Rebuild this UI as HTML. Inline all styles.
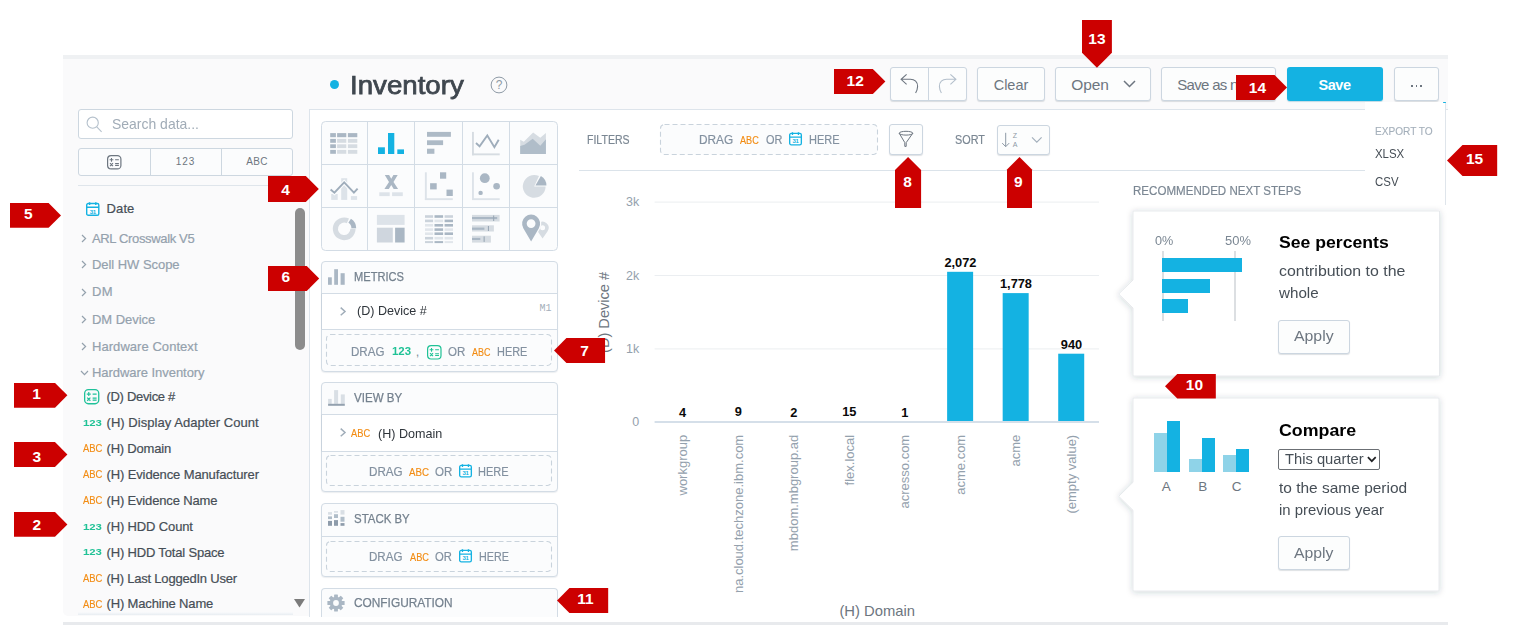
<!DOCTYPE html>
<html><head><meta charset="utf-8">
<style>
*{box-sizing:border-box;margin:0;padding:0}
html,body{width:1521px;height:637px;overflow:hidden;background:#fff}
body{position:relative;font-family:"Liberation Sans",sans-serif;color:#464e56}
.a{position:absolute}
svg.a{display:block;overflow:visible}
.lt{position:absolute;color:#fff;font-weight:bold;line-height:1;text-align:center}
.btn{position:absolute;border:1px solid #ccd6e0;border-radius:3px;background:#fcfdfd;box-shadow:0 1px 1px rgba(31,53,74,.15);color:#6d7680;text-align:center;white-space:nowrap}
.t{position:absolute;white-space:nowrap;line-height:1}
.grp{color:#94a1ad}
.itm{color:#464e56}
.abc{color:#f38800}
.n123{color:#13b58f}
.dz{position:absolute;border:1px dashed #c6d0da;border-radius:5px}
</style></head>
<body>
<div class="a" style="left:63px;top:55px;width:1385px;height:4px;background:#eff1f3"></div>
<div class="a" style="left:63px;top:59px;width:1385px;height:557px;background:#fafafb;border-bottom-left-radius:5px"></div>
<div class="a" style="left:63px;top:622px;width:1385px;height:3px;background:#e8eaed"></div>
<div class="a" style="left:309px;top:109px;width:1139px;height:508px;background:#fff;border-left:1px solid #dde4eb;border-top:1px solid #dde4eb"></div>
<div class="a" style="left:78px;top:109px;width:215px;height:30px;border:1px solid #cdd7e0;border-radius:3px;background:#fff"></div>
<svg class="a" style="left:86px;top:116px" width="18" height="18" viewBox="0 0 18 18"><circle cx="6.7" cy="6.7" r="5.6" fill="none" stroke="#b5c1cc" stroke-width="1.1"/><path d="M10.8 10.8L15.6 15.8" stroke="#b5c1cc" stroke-width="1.1"/></svg>
<div class="t" style="left:111.90px;top:116.98px;font-size:14.2px;color:#a1acb7;transform:scaleX(0.9842);transform-origin:0 0;">Search data...</div>
<div class="a" style="left:78px;top:148px;width:215px;height:28px;border:1px solid #cdd7e0;border-radius:3px;background:#fbfcfd"></div>
<div class="a" style="left:150px;top:149px;width:1px;height:26px;background:#cdd7e0"></div>
<div class="a" style="left:221px;top:149px;width:1px;height:26px;background:#cdd7e0"></div>
<svg class="a" style="left:107px;top:155px" width="14.5" height="14.5" viewBox="0 0 14.5 14.5"><rect x="0.6" y="0.6" width="13.3" height="13.3" rx="3.48" fill="none" stroke="#6d7680" stroke-width="1.2"/><path d="M2.6100000000000003 4.785H6.38M4.495 2.9000000000000004V6.67M8.12 4.785H11.889999999999999M2.987 8.062000000000001L6.003 11.078M6.003 8.062000000000001L2.987 11.078M8.12 8.6275H11.889999999999999M8.12 10.512500000000001H11.889999999999999" stroke="#6d7680" stroke-width="1.08" fill="none"/></svg>
<div class="t" style="left:150px;width:71px;top:157px;font-size:10px;letter-spacing:1px;color:#6d7680;text-align:center">123</div>
<div class="t" style="left:221px;width:72px;top:157px;font-size:10px;letter-spacing:0.3px;color:#6d7680;text-align:center">ABC</div>
<div class="a" style="left:78px;top:185px;width:215px;height:1px;background:#dfe5eb"></div>
<svg class="a" style="left:86px;top:202px" width="14" height="14" viewBox="0 0 14 14"><rect x="0.7" y="1.5" width="12.1" height="11.8" rx="1.6" fill="#fff" stroke="#14b2e2" stroke-width="1.4"/><path d="M0.7 5.3H12.8M3.6 0.2V3M9.8 0.2V3" stroke="#14b2e2" stroke-width="1.4"/><text x="6.8" y="11.6" font-size="6.2" font-weight="bold" text-anchor="middle" fill="#14b2e2" font-family="Liberation Sans" letter-spacing="-0.3">31</text></svg>
<div class="t itm" style="left:106.5px;top:202.1px;font-size:13px;letter-spacing:0.13px;-webkit-text-stroke:0.2px currentColor;">Date</div>
<svg class="a" style="left:81px;top:234.3px" width="6" height="9" viewBox="0 0 6 9"><path d="M1 1L4.6 4.5L1 8" fill="none" stroke="#94a1ad" stroke-width="1.2"/></svg>
<div class="t grp" style="left:92px;top:231.8px;font-size:13px;letter-spacing:-0.35px;-webkit-text-stroke:0.2px currentColor;">ARL Crosswalk V5</div>
<svg class="a" style="left:81px;top:260.3px" width="6" height="9" viewBox="0 0 6 9"><path d="M1 1L4.6 4.5L1 8" fill="none" stroke="#94a1ad" stroke-width="1.2"/></svg>
<div class="t grp" style="left:92px;top:257.8px;font-size:13px;letter-spacing:-0.05px;-webkit-text-stroke:0.2px currentColor;">Dell HW Scope</div>
<svg class="a" style="left:81px;top:287.5px" width="6" height="9" viewBox="0 0 6 9"><path d="M1 1L4.6 4.5L1 8" fill="none" stroke="#94a1ad" stroke-width="1.2"/></svg>
<div class="t grp" style="left:92px;top:285.0px;font-size:13px;letter-spacing:0.3px;-webkit-text-stroke:0.2px currentColor;">DM</div>
<svg class="a" style="left:81px;top:315.4px" width="6" height="9" viewBox="0 0 6 9"><path d="M1 1L4.6 4.5L1 8" fill="none" stroke="#94a1ad" stroke-width="1.2"/></svg>
<div class="t grp" style="left:92px;top:312.9px;font-size:13px;letter-spacing:-0.04px;-webkit-text-stroke:0.2px currentColor;">DM Device</div>
<svg class="a" style="left:81px;top:342.3px" width="6" height="9" viewBox="0 0 6 9"><path d="M1 1L4.6 4.5L1 8" fill="none" stroke="#94a1ad" stroke-width="1.2"/></svg>
<div class="t grp" style="left:92px;top:339.8px;font-size:13px;letter-spacing:0.05px;-webkit-text-stroke:0.2px currentColor;">Hardware Context</div>
<svg class="a" style="left:79.5px;top:369.5px" width="9" height="6" viewBox="0 0 9 6"><path d="M1 1L4.5 4.6L8 1" fill="none" stroke="#94a1ad" stroke-width="1.2"/></svg>
<div class="t grp" style="left:92px;top:366.1px;font-size:13px;letter-spacing:-0.05px;-webkit-text-stroke:0.2px currentColor;">Hardware Inventory</div>
<svg class="a" style="left:84.3px;top:389.2px" width="15.4" height="15.4" viewBox="0 0 15.4 15.4"><rect x="0.65" y="0.65" width="14.1" height="14.1" rx="3.6959999999999997" fill="none" stroke="#1fc19a" stroke-width="1.3"/><path d="M2.772 5.082000000000001H6.776M4.774 3.0800000000000005V7.084000000000001M8.623999999999999 5.082000000000001H12.628M3.1723999999999997 8.5624L6.3756 11.765600000000003M6.3756 8.5624L3.1723999999999997 11.765600000000003M8.623999999999999 9.163000000000002H12.628M8.623999999999999 11.165000000000001H12.628" stroke="#1fc19a" stroke-width="1.1700000000000002" fill="none"/></svg>
<div class="t itm" style="left:106.5px;top:390.2px;font-size:13px;letter-spacing:-0.31px;-webkit-text-stroke:0.2px currentColor;">(D) Device #</div>
<div class="t" style="left:82.70px;top:418.02px;font-size:9.9px;color:#20c296;transform:scaleX(1.1492);transform-origin:0 0;font-weight:bold;">123</div>
<div class="t itm" style="left:106.5px;top:416.4px;font-size:13px;letter-spacing:0.05px;-webkit-text-stroke:0.2px currentColor;">(H) Display Adapter Count</div>
<div class="t" style="left:82.70px;top:443.49px;font-size:11px;color:#f28c13;transform:scaleX(0.8582);transform-origin:0 0;-webkit-text-stroke:0.15px #f28c13;">ABC</div>
<div class="t itm" style="left:106.5px;top:442.3px;font-size:13px;letter-spacing:-0.2px;-webkit-text-stroke:0.2px currentColor;">(H) Domain</div>
<div class="t" style="left:82.70px;top:469.39px;font-size:11px;color:#f28c13;transform:scaleX(0.8582);transform-origin:0 0;-webkit-text-stroke:0.15px #f28c13;">ABC</div>
<div class="t itm" style="left:106.5px;top:468.2px;font-size:13px;letter-spacing:-0.12px;-webkit-text-stroke:0.2px currentColor;">(H) Evidence Manufacturer</div>
<div class="t" style="left:82.70px;top:495.19px;font-size:11px;color:#f28c13;transform:scaleX(0.8582);transform-origin:0 0;-webkit-text-stroke:0.15px #f28c13;">ABC</div>
<div class="t itm" style="left:106.5px;top:494.0px;font-size:13px;letter-spacing:-0.16px;-webkit-text-stroke:0.2px currentColor;">(H) Evidence Name</div>
<div class="t" style="left:82.70px;top:521.52px;font-size:9.9px;color:#20c296;transform:scaleX(1.1492);transform-origin:0 0;font-weight:bold;">123</div>
<div class="t itm" style="left:106.5px;top:519.9px;font-size:13px;letter-spacing:-0.14px;-webkit-text-stroke:0.2px currentColor;">(H) HDD Count</div>
<div class="t" style="left:82.70px;top:547.42px;font-size:9.9px;color:#20c296;transform:scaleX(1.1492);transform-origin:0 0;font-weight:bold;">123</div>
<div class="t itm" style="left:106.5px;top:545.8px;font-size:13px;letter-spacing:-0.17px;-webkit-text-stroke:0.2px currentColor;">(H) HDD Total Space</div>
<div class="t" style="left:82.70px;top:572.79px;font-size:11px;color:#f28c13;transform:scaleX(0.8582);transform-origin:0 0;-webkit-text-stroke:0.15px #f28c13;">ABC</div>
<div class="t itm" style="left:106.5px;top:571.6px;font-size:13px;letter-spacing:-0.22px;-webkit-text-stroke:0.2px currentColor;">(H) Last LoggedIn User</div>
<div class="t" style="left:82.70px;top:598.59px;font-size:11px;color:#f28c13;transform:scaleX(0.8582);transform-origin:0 0;-webkit-text-stroke:0.15px #f28c13;">ABC</div>
<div class="t itm" style="left:106.5px;top:597.4px;font-size:13px;letter-spacing:-0.15px;-webkit-text-stroke:0.2px currentColor;">(H) Machine Name</div>
<div class="a" style="left:78px;top:612px;width:215px;height:3px;background:linear-gradient(#fafbfc,#e8edf2)"></div>
<div class="a" style="left:295px;top:208px;width:10px;height:142px;border-radius:5px;background:#8c8c8c"></div>
<svg class="a" style="left:294px;top:599px" width="11" height="9" viewBox="0 0 11 9"><polygon points="0,0 11,0 5.5,8.5" fill="#7b7b7b"/></svg>
<div class="a" style="left:309px;top:109px;width:1px;height:508px;background:#dde4eb"></div>
<div class="a" style="left:329.5px;top:80px;width:9px;height:9px;border-radius:50%;background:#14b2e2"></div>
<div class="t" style="left:349.60px;top:71.94px;font-size:26.3px;color:#3f474f;transform:scaleX(1.0515);transform-origin:0 0;-webkit-text-stroke:0.75px #3f474f;">Inventory</div>
<svg class="a" style="left:490px;top:75.5px" width="18" height="18" viewBox="0 0 18 18"><circle cx="9" cy="9" r="7.9" fill="none" stroke="#8e9aa6" stroke-width="1"/><text x="9" y="13.2" font-size="12" text-anchor="middle" fill="#8e9aa6" font-family="Liberation Sans">?</text></svg>
<div class="btn" style="left:890px;top:67px;width:77px;height:34px"></div>
<div class="a" style="left:928px;top:68px;width:1px;height:32px;background:#ccd6e0"></div>
<svg class="a" style="left:899px;top:72px" width="22" height="24" viewBox="0 0 22 24"><path d="M7.6 2.3L2.1 7.3L7.6 12.4M2.1 7.3H11.4C15.6 7.3 18.8 10 18.6 14.5C18.5 17 17.8 19 16.6 21" fill="none" stroke="#6d7680" stroke-width="1.1"/></svg>
<svg class="a" style="left:936px;top:72px" width="22" height="24" viewBox="0 0 22 24"><path d="M14.4 2.3L19.9 7.3L14.4 12.4M19.9 7.3H10.6C6.4 7.3 3.2 10 3.4 14.5C3.5 17 4.2 19 5.4 21" fill="none" stroke="#b3bfcb" stroke-width="1.1"/></svg>
<div class="btn" style="left:977px;top:67px;width:68px;height:34px;font-size:14.5px;line-height:34px">Clear</div>
<div class="btn" style="left:1055px;top:67px;width:96px;height:34px"></div>
<div class="t" style="left:1071.20px;top:77.28px;font-size:15.5px;color:#6d7680;letter-spacing:-0.1px;">Open</div>
<svg class="a" style="left:1123px;top:80px" width="13" height="8" viewBox="0 0 13 8"><path d="M1 1L6.5 6.5L12 1" fill="none" stroke="#6d7680" stroke-width="1.5"/></svg>
<div class="btn" style="left:1161px;top:67px;width:115px;height:34px;overflow:hidden"></div>
<div class="t" style="left:1177.30px;top:77.30px;font-size:15px;color:#6d7680;letter-spacing:-0.7px;">Save as new</div>
<div class="a" style="left:1287px;top:67px;width:96px;height:34px;border-radius:3px;background:#14b2e2;color:#fff;box-shadow:0 1px 1px rgba(20,120,160,.25)"></div>
<div class="t" style="left:1318.60px;top:77.53px;font-size:14.5px;color:#fff;font-weight:bold;letter-spacing:-0.5px;">Save</div>
<div class="btn" style="left:1394px;top:67px;width:45px;height:34px"></div>
<div class="a" style="left:1411.3px;top:85.2px;width:1.6px;height:1.6px;background:#6d7680"></div>
<div class="a" style="left:1415.9px;top:85.2px;width:1.6px;height:1.6px;background:#6d7680"></div>
<div class="a" style="left:1420.4px;top:85.2px;width:1.6px;height:1.6px;background:#6d7680"></div>
<svg class="a" style="left:321px;top:121px" width="238" height="131" viewBox="0 0 238 131"><rect x="0.5" y="0.5" width="236" height="129" rx="4" fill="#fbfcfd" stroke="#d3dce5"/><path d="M46.5 0.5V129.5" stroke="#d3dce5" stroke-width="1"/><path d="M93.5 0.5V129.5" stroke="#d3dce5" stroke-width="1"/><path d="M141.5 0.5V129.5" stroke="#d3dce5" stroke-width="1"/><path d="M188.5 0.5V129.5" stroke="#d3dce5" stroke-width="1"/><path d="M0.5 43.5H236.5" stroke="#d3dce5" stroke-width="1"/><path d="M0.5 86.5H236.5" stroke="#d3dce5" stroke-width="1"/><rect x="9.20" y="12.10" width="5.70" height="4.10" fill="#aab7c4"/><rect x="16.10" y="12.10" width="9.20" height="4.10" fill="#aab7c4"/><rect x="26.90" y="12.10" width="9.40" height="4.10" fill="#aab7c4"/><rect x="9.20" y="17.90" width="5.70" height="3.90" fill="#aab7c4"/><rect x="16.10" y="17.90" width="9.20" height="3.90" fill="#d6dce2"/><rect x="26.90" y="17.90" width="9.40" height="3.90" fill="#d6dce2"/><rect x="9.20" y="23.30" width="5.70" height="3.80" fill="#aab7c4"/><rect x="16.10" y="23.30" width="9.20" height="3.80" fill="#d6dce2"/><rect x="26.90" y="23.30" width="9.40" height="3.80" fill="#d6dce2"/><rect x="9.20" y="28.90" width="5.70" height="3.90" fill="#aab7c4"/><rect x="16.10" y="28.90" width="9.20" height="3.90" fill="#d6dce2"/><rect x="26.90" y="28.90" width="9.40" height="3.90" fill="#d6dce2"/><rect x="57.00" y="26.30" width="6.90" height="6.70" fill="#14b2e2"/><rect x="67.00" y="12.00" width="6.30" height="21.00" fill="#14b2e2"/><rect x="76.30" y="28.40" width="6.70" height="4.60" fill="#14b2e2"/><rect x="106.00" y="10.90" width="23.90" height="4.90" fill="#adbac6"/><rect x="106.00" y="19.30" width="16.10" height="4.80" fill="#adbac6"/><rect x="106.00" y="27.70" width="7.40" height="5.10" fill="#adbac6"/><rect x="151.00" y="10.90" width="1.90" height="23.40" fill="#d6dce2"/><rect x="151.00" y="32.40" width="27.70" height="1.90" fill="#d6dce2"/><polyline points="155,22 158.60000000000002,25.400000000000006 166.3,14.5 173.39999999999998,26.19999999999999 177.7,18.69999999999999" fill="none" stroke="#9fadbb" stroke-width="1.9" stroke-linejoin="miter"/><polygon points="199.20,18.80 202.80,20.80 212.10,11.60 219.30,16.80 224.90,11.90 224.90,32.90 199.20,32.90" fill="#d6dce2"/><polygon points="199.20,25.10 203.50,23.80 211.70,17.80 219.30,24.70 224.90,18.20 224.90,32.90 199.20,32.90" fill="#b0bdc9"/><rect x="10.20" y="73.00" width="6.50" height="5.90" fill="#dde3e9"/><rect x="20.20" y="57.20" width="6.00" height="21.70" fill="#dde3e9"/><rect x="29.90" y="75.10" width="6.20" height="3.80" fill="#dde3e9"/><polyline points="9.600000000000023,68.6 13.399999999999977,71.69999999999999 23.19999999999999,61.400000000000006 32.89999999999998,71.69999999999999 36.60000000000002,67.6" fill="none" stroke="#fbfcfd" stroke-width="4"/><polyline points="9.600000000000023,68.6 13.399999999999977,71.69999999999999 23.19999999999999,61.400000000000006 32.89999999999998,71.69999999999999 36.60000000000002,67.6" fill="none" stroke="#9fadbb" stroke-width="1.9"/><polygon points="63.80,54.00 68.10,54.00 70.25,57.70 72.40,54.00 76.70,54.00 72.50,60.90 77.10,67.90 72.70,67.90 70.25,64.00 67.80,67.90 63.40,67.90 68.00,60.90" fill="#aab7c4"/><rect x="58.30" y="71.30" width="10.40" height="3.80" fill="#dde3e9"/><rect x="71.10" y="71.30" width="10.70" height="3.80" fill="#dde3e9"/><rect x="103.90" y="51.30" width="1.90" height="27.70" fill="#dde3e9"/><rect x="103.90" y="77.20" width="27.90" height="1.90" fill="#dde3e9"/><rect x="119.00" y="51.30" width="6.20" height="6.40" fill="#aab7c4"/><rect x="109.10" y="62.20" width="6.60" height="6.20" fill="#aab7c4"/><rect x="125.50" y="68.60" width="6.30" height="6.40" fill="#aab7c4"/><rect x="151.00" y="51.30" width="1.90" height="27.70" fill="#dde3e9"/><rect x="151.00" y="77.20" width="27.70" height="1.90" fill="#dde3e9"/><circle cx="163.8" cy="57.19999999999999" r="4.9" fill="#aab7c4"/><circle cx="175.60000000000002" cy="65.30000000000001" r="3.3" fill="#aab7c4"/><circle cx="159.60000000000002" cy="71.9" r="2.2" fill="#aab7c4"/><path d="M213.20 65.40L224.60 65.40A11.4 11.4 0 1 1 218.02 55.07Z" fill="#d6dce2"/><path d="M214.40 64.60L219.90 55.07A11.0 11.0 0 0 1 225.40 64.60Z" fill="#aab7c4"/><path d="M34.60 107.80A11.4 11.4 0 1 1 28.02 97.47L25.82 102.18A6.2 6.2 0 1 0 29.40 107.80Z" fill="#d6dce2"/><path d="M29.94 97.70A11.2 11.2 0 0 1 35.20 107.20L30.40 107.20A6.4 6.4 0 0 0 27.39 101.77Z" fill="#aab7c4"/><rect x="55.90" y="93.90" width="27.70" height="10.00" fill="#dde3e9"/><rect x="55.90" y="106.70" width="15.90" height="14.80" fill="#cfd6de"/><rect x="74.10" y="106.70" width="9.50" height="14.80" fill="#aab7c4"/><rect x="104.00" y="94.20" width="8.10" height="2.60" fill="#cbd3db"/><rect x="113.50" y="94.20" width="8.60" height="2.60" fill="#aab7c4"/><rect x="123.60" y="94.20" width="8.40" height="2.60" fill="#cbd3db"/><rect x="104.00" y="98.60" width="8.10" height="2.60" fill="#cbd3db"/><rect x="113.50" y="98.60" width="8.60" height="2.60" fill="#e1e6eb"/><rect x="123.60" y="98.60" width="8.40" height="2.60" fill="#aab7c4"/><rect x="104.00" y="103.00" width="8.10" height="2.60" fill="#e1e6eb"/><rect x="113.50" y="103.00" width="8.60" height="2.60" fill="#aab7c4"/><rect x="123.60" y="103.00" width="8.40" height="2.60" fill="#aab7c4"/><rect x="104.00" y="107.30" width="8.10" height="2.60" fill="#e1e6eb"/><rect x="113.50" y="107.30" width="8.60" height="2.60" fill="#aab7c4"/><rect x="123.60" y="107.30" width="8.40" height="2.60" fill="#e1e6eb"/><rect x="104.00" y="111.40" width="8.10" height="2.60" fill="#e1e6eb"/><rect x="113.50" y="111.40" width="8.60" height="2.60" fill="#aab7c4"/><rect x="123.60" y="111.40" width="8.40" height="2.60" fill="#aab7c4"/><rect x="104.00" y="115.90" width="8.10" height="2.60" fill="#cbd3db"/><rect x="113.50" y="115.90" width="8.60" height="2.60" fill="#e1e6eb"/><rect x="123.60" y="115.90" width="8.40" height="2.60" fill="#e1e6eb"/><rect x="104.00" y="120.10" width="8.10" height="2.00" fill="#cbd3db"/><rect x="113.50" y="120.10" width="8.60" height="2.00" fill="#aab7c4"/><rect x="123.60" y="120.10" width="8.40" height="2.00" fill="#e1e6eb"/><rect x="151.00" y="93.90" width="27.60" height="6.60" fill="#d6dce2"/><rect x="151.00" y="96.00" width="25.20" height="2.10" fill="#aab7c4"/><rect x="172.10" y="94.50" width="1.10" height="5.50" fill="#9aa8b6"/><rect x="151.00" y="104.30" width="21.90" height="6.20" fill="#d6dce2"/><rect x="151.00" y="106.60" width="12.40" height="2.20" fill="#aab7c4"/><rect x="166.90" y="105.00" width="1.10" height="5.00" fill="#9aa8b6"/><rect x="151.00" y="114.70" width="18.90" height="6.90" fill="#d6dce2"/><rect x="151.00" y="116.90" width="8.30" height="2.10" fill="#aab7c4"/><rect x="162.60" y="115.40" width="1.10" height="5.50" fill="#9aa8b6"/><path d="M221.60 117.60L216.61 110.13A6.0 6.0 0 1 1 226.59 110.13Z M224.10 106.80A2.5 2.5 0 1 0 219.10 106.80A2.5 2.5 0 1 0 224.10 106.80Z" fill="#d6dce2" fill-rule="evenodd"/><path d="M210.10 120.50L202.32 107.13A9.0 9.0 0 1 1 217.88 107.13Z M210.10 102.60A0 0 0 1 0 210.10 102.60A0 0 0 1 0 210.10 102.60Z" fill="none" stroke="#fbfcfd" stroke-width="2.4"/><path d="M210.10 120.50L202.32 107.13A9.0 9.0 0 1 1 217.88 107.13Z M214.50 102.60A4.4 4.4 0 1 0 205.70 102.60A4.4 4.4 0 1 0 214.50 102.60Z" fill="#aab7c4" fill-rule="evenodd"/></svg>
<div class="a" style="left:321px;top:261px;width:237px;height:111px;border:1px solid #d3dce5;border-radius:4px;background:#fbfcfd;box-shadow:0 1px 1px rgba(31,53,74,.08)"></div>
<div class="a" style="left:322px;top:293px;width:235px;height:1px;background:#d3dce5"></div>
<svg class="a" style="left:328px;top:269px" width="17" height="16" viewBox="0 0 17 16"><rect x="0" y="8.3" width="3.8" height="7.5" fill="#aab7c4"/><rect x="6.2" y="0.2" width="3.8" height="15.6" fill="#aab7c4"/><rect x="12.6" y="4.2" width="4.1" height="11.6" fill="#aab7c4"/></svg>
<div class="t" style="left:354.00px;top:270.96px;font-size:12.8px;color:#74818e;transform:scaleX(0.8681);transform-origin:0 0;-webkit-text-stroke:0.25px #74818e;">METRICS</div>
<div class="a" style="left:321px;top:293px;width:237px;height:37px;background:#fff;border-top:1px solid #d3dce5;border-bottom:1px solid #d3dce5;border-left:1px solid #c9d3dd;border-right:1px solid #d3dce5"></div>
<svg class="a" style="left:340.3px;top:306.9px" width="6" height="9" viewBox="0 0 6 9"><path d="M0.7 0.6L5 4.45L0.7 8.3" fill="none" stroke="#a0adb9" stroke-width="1.5"/></svg>
<div class="t" style="left:356.60px;top:304.20px;font-size:13px;color:#2f353b;transform:scaleX(0.9666);transform-origin:0 0;">(D) Device #</div>
<div class="t" style="left:539.6px;top:303.6px;font-size:10px;color:#a4afba;font-family:'Liberation Mono',monospace">M1</div>
<svg class="a" style="left:325px;top:333px" width="228" height="34" viewBox="0 0 228 34"><rect x="1.5" y="1.5" width="225" height="31" rx="4" fill="#fbfcfd" stroke="#c9d3dc" stroke-width="1.1" stroke-dasharray="5 3"/></svg>
<div class="t" style="left:350.90px;top:345.66px;font-size:12.8px;color:#8391a0;transform:scaleX(0.9029);transform-origin:0 0;-webkit-text-stroke:0.2px #8391a0;">DRAG</div>
<div class="t" style="left:391.60px;top:346.88px;font-size:10.3px;color:#20c296;transform:scaleX(1.1104);transform-origin:0 0;font-weight:bold;">123</div>
<div class="t" style="left:415.80px;top:345.66px;font-size:12.8px;color:#8391a0;">,</div>
<svg class="a" style="left:427.3px;top:344.7px" width="14.6" height="14.6" viewBox="0 0 14.6 14.6"><rect x="0.6" y="0.6" width="13.4" height="13.4" rx="3.504" fill="none" stroke="#20c296" stroke-width="1.2"/><path d="M2.628 4.8180000000000005H6.4239999999999995M4.526 2.920000000000001V6.716M8.176 4.8180000000000005H11.972M3.0076 8.117600000000001L6.0443999999999996 11.1544M6.0443999999999996 8.117600000000001L3.0076 11.1544M8.176 8.687000000000001H11.972M8.176 10.585H11.972" stroke="#20c296" stroke-width="1.08" fill="none"/></svg>
<div class="t" style="left:447.50px;top:345.66px;font-size:12.8px;color:#8391a0;transform:scaleX(0.9010);transform-origin:0 0;-webkit-text-stroke:0.2px #8391a0;">OR</div>
<div class="t" style="left:471.70px;top:346.96px;font-size:10.8px;color:#f28c13;transform:scaleX(0.8291);transform-origin:0 0;-webkit-text-stroke:0.15px #f28c13;">ABC</div>
<div class="t" style="left:497.00px;top:345.66px;font-size:12.8px;color:#8391a0;transform:scaleX(0.8543);transform-origin:0 0;-webkit-text-stroke:0.2px #8391a0;">HERE</div>
<div class="a" style="left:321px;top:382px;width:237px;height:110px;border:1px solid #d3dce5;border-radius:4px;background:#fbfcfd;box-shadow:0 1px 1px rgba(31,53,74,.08)"></div>
<div class="a" style="left:322px;top:414px;width:235px;height:1px;background:#d3dce5"></div>
<svg class="a" style="left:328px;top:390px" width="17" height="16" viewBox="0 0 17 16"><rect x="0.1" y="8.9" width="3.6" height="5" fill="#d9dfe5"/><rect x="6.1" y="0.1" width="4" height="13.8" fill="#d9dfe5"/><rect x="12.8" y="4.4" width="4" height="9.5" fill="#d9dfe5"/><rect x="0.1" y="13.8" width="16.7" height="2" fill="#93a1af"/></svg>
<div class="t" style="left:354.00px;top:392.26px;font-size:12.8px;color:#74818e;transform:scaleX(0.9030);transform-origin:0 0;-webkit-text-stroke:0.25px #74818e;">VIEW BY</div>
<div class="a" style="left:321px;top:414px;width:237px;height:38px;background:#fff;border-top:1px solid #d3dce5;border-bottom:1px solid #d3dce5;border-left:1px solid #c9d3dd;border-right:1px solid #d3dce5"></div>
<svg class="a" style="left:340.3px;top:428.3px" width="6" height="9" viewBox="0 0 6 9"><path d="M0.7 0.6L5 4.45L0.7 8.3" fill="none" stroke="#a0adb9" stroke-width="1.5"/></svg>
<div class="t" style="left:351.00px;top:428.16px;font-size:10.8px;color:#f28c13;transform:scaleX(0.8606);transform-origin:0 0;-webkit-text-stroke:0.15px #f28c13;">ABC</div>
<div class="t" style="left:377.90px;top:426.50px;font-size:13px;color:#2f353b;transform:scaleX(0.9679);transform-origin:0 0;">(H) Domain</div>
<svg class="a" style="left:325px;top:454px" width="228" height="33" viewBox="0 0 228 33"><rect x="1.5" y="1.5" width="225" height="30" rx="4" fill="#fbfcfd" stroke="#c9d3dc" stroke-width="1.1" stroke-dasharray="5 3"/></svg>
<div class="t" style="left:369.20px;top:465.56px;font-size:12.8px;color:#8391a0;transform:scaleX(0.9110);transform-origin:0 0;-webkit-text-stroke:0.2px #8391a0;">DRAG</div>
<div class="t" style="left:409.40px;top:466.86px;font-size:10.8px;color:#f28c13;transform:scaleX(0.9011);transform-origin:0 0;-webkit-text-stroke:0.15px #f28c13;">ABC</div>
<div class="t" style="left:434.90px;top:465.56px;font-size:12.8px;color:#8391a0;transform:scaleX(0.9010);transform-origin:0 0;-webkit-text-stroke:0.2px #8391a0;">OR</div>
<svg class="a" style="left:458.6px;top:463.79999999999995px" width="13.5" height="13.5" viewBox="0 0 14 14"><rect x="0.7" y="1.5" width="12.1" height="11.8" rx="1.6" fill="#fff" stroke="#14b2e2" stroke-width="1.4"/><path d="M0.7 5.3H12.8M3.6 0.2V3M9.8 0.2V3" stroke="#14b2e2" stroke-width="1.4"/><text x="6.8" y="11.6" font-size="6.2" font-weight="bold" text-anchor="middle" fill="#14b2e2" font-family="Liberation Sans" letter-spacing="-0.3">31</text></svg>
<div class="t" style="left:478.40px;top:465.56px;font-size:12.8px;color:#8391a0;transform:scaleX(0.8599);transform-origin:0 0;-webkit-text-stroke:0.2px #8391a0;">HERE</div>
<div class="a" style="left:321px;top:503px;width:237px;height:74px;border:1px solid #d3dce5;border-radius:4px;background:#fbfcfd;box-shadow:0 1px 1px rgba(31,53,74,.08)"></div>
<div class="a" style="left:322px;top:536px;width:235px;height:1px;background:#d3dce5"></div>
<svg class="a" style="left:328px;top:509px" width="17" height="17" viewBox="0 0 17 17"><rect x="0" y="3.10" width="4" height="2.60" fill="#d9dfe5"/><rect x="0" y="7.40" width="4" height="2.70" fill="#b0bdc9"/><rect x="0" y="11.90" width="4" height="4.90" fill="#8e9cab"/><rect x="6" y="2.10" width="4" height="1.60" fill="#d9dfe5"/><rect x="6" y="5.20" width="4" height="3.80" fill="#b0bdc9"/><rect x="6" y="11.10" width="4" height="5.70" fill="#8e9cab"/><rect x="12.5" y="1.10" width="4" height="4.50" fill="#d9dfe5"/><rect x="12.5" y="7.80" width="4" height="4.90" fill="#b0bdc9"/><rect x="12.5" y="14.10" width="4" height="2.70" fill="#8e9cab"/></svg>
<div class="t" style="left:354.00px;top:512.66px;font-size:12.8px;color:#74818e;transform:scaleX(0.8935);transform-origin:0 0;-webkit-text-stroke:0.25px #74818e;">STACK BY</div>
<svg class="a" style="left:325px;top:540px" width="228" height="33" viewBox="0 0 228 33"><rect x="1.5" y="1.5" width="225" height="30" rx="4" fill="#fbfcfd" stroke="#c9d3dc" stroke-width="1.1" stroke-dasharray="5 3"/></svg>
<div class="t" style="left:369.30px;top:550.76px;font-size:12.8px;color:#8391a0;transform:scaleX(0.9056);transform-origin:0 0;-webkit-text-stroke:0.2px #8391a0;">DRAG</div>
<div class="t" style="left:410.00px;top:552.06px;font-size:10.8px;color:#f28c13;transform:scaleX(0.8516);transform-origin:0 0;-webkit-text-stroke:0.15px #f28c13;">ABC</div>
<div class="t" style="left:435.10px;top:550.76px;font-size:12.8px;color:#8391a0;transform:scaleX(0.8802);transform-origin:0 0;-webkit-text-stroke:0.2px #8391a0;">OR</div>
<svg class="a" style="left:458.9px;top:549.0px" width="13.5" height="13.5" viewBox="0 0 14 14"><rect x="0.7" y="1.5" width="12.1" height="11.8" rx="1.6" fill="#fff" stroke="#14b2e2" stroke-width="1.4"/><path d="M0.7 5.3H12.8M3.6 0.2V3M9.8 0.2V3" stroke="#14b2e2" stroke-width="1.4"/><text x="6.8" y="11.6" font-size="6.2" font-weight="bold" text-anchor="middle" fill="#14b2e2" font-family="Liberation Sans" letter-spacing="-0.3">31</text></svg>
<div class="t" style="left:479.00px;top:550.76px;font-size:12.8px;color:#8391a0;transform:scaleX(0.8431);transform-origin:0 0;-webkit-text-stroke:0.2px #8391a0;">HERE</div>
<div class="a" style="left:321px;top:588px;width:237px;height:29px;border:1px solid #d3dce5;border-bottom:none;border-radius:4px 4px 0 0;background:#fbfcfd"></div>
<svg class="a" style="left:326.3px;top:593.4px" width="20" height="20" viewBox="-10 -10 20 20"><rect x="-1.9" y="-8.6" width="3.8" height="4" rx="0.5" transform="rotate(0)" fill="#aab7c4"/><rect x="-1.9" y="-8.6" width="3.8" height="4" rx="0.5" transform="rotate(45)" fill="#aab7c4"/><rect x="-1.9" y="-8.6" width="3.8" height="4" rx="0.5" transform="rotate(90)" fill="#aab7c4"/><rect x="-1.9" y="-8.6" width="3.8" height="4" rx="0.5" transform="rotate(135)" fill="#aab7c4"/><rect x="-1.9" y="-8.6" width="3.8" height="4" rx="0.5" transform="rotate(180)" fill="#aab7c4"/><rect x="-1.9" y="-8.6" width="3.8" height="4" rx="0.5" transform="rotate(225)" fill="#aab7c4"/><rect x="-1.9" y="-8.6" width="3.8" height="4" rx="0.5" transform="rotate(270)" fill="#aab7c4"/><rect x="-1.9" y="-8.6" width="3.8" height="4" rx="0.5" transform="rotate(315)" fill="#aab7c4"/><circle r="6.3" fill="#aab7c4"/><circle r="2.9" fill="#fbfcfd"/></svg>
<div class="t" style="left:354.00px;top:597.36px;font-size:12.8px;color:#74818e;transform:scaleX(0.9274);transform-origin:0 0;-webkit-text-stroke:0.25px #74818e;">CONFIGURATION</div>
<div class="t" style="left:586.50px;top:134.08px;font-size:12.9px;color:#7b8793;transform:scaleX(0.8174);transform-origin:0 0;-webkit-text-stroke:0.2px #7b8793;">FILTERS</div>
<svg class="a" style="left:659px;top:123px" width="220" height="33" viewBox="0 0 220 33"><rect x="1.5" y="1.5" width="217" height="30" rx="4" fill="#fbfcfd" stroke="#c9d3dc" stroke-width="1.1" stroke-dasharray="5 3"/></svg>
<div class="t" style="left:699.20px;top:133.66px;font-size:12.8px;color:#8391a0;transform:scaleX(0.9245);transform-origin:0 0;-webkit-text-stroke:0.2px #8391a0;">DRAG</div>
<div class="t" style="left:740.30px;top:134.96px;font-size:10.8px;color:#f28c13;transform:scaleX(0.8426);transform-origin:0 0;-webkit-text-stroke:0.15px #f28c13;">ABC</div>
<div class="t" style="left:765.60px;top:133.66px;font-size:12.8px;color:#8391a0;transform:scaleX(0.8542);transform-origin:0 0;-webkit-text-stroke:0.2px #8391a0;">OR</div>
<svg class="a" style="left:789.3px;top:131.9px" width="13.5" height="13.5" viewBox="0 0 14 14"><rect x="0.7" y="1.5" width="12.1" height="11.8" rx="1.6" fill="#fff" stroke="#14b2e2" stroke-width="1.4"/><path d="M0.7 5.3H12.8M3.6 0.2V3M9.8 0.2V3" stroke="#14b2e2" stroke-width="1.4"/><text x="6.8" y="11.6" font-size="6.2" font-weight="bold" text-anchor="middle" fill="#14b2e2" font-family="Liberation Sans" letter-spacing="-0.3">31</text></svg>
<div class="t" style="left:809.00px;top:133.66px;font-size:12.8px;color:#8391a0;transform:scaleX(0.8599);transform-origin:0 0;-webkit-text-stroke:0.2px #8391a0;">HERE</div>
<div class="btn" style="left:889px;top:124px;width:34px;height:31px"></div>
<svg class="a" style="left:898px;top:130px" width="16" height="18" viewBox="0 0 16 18"><ellipse cx="8" cy="3.2" rx="6.8" ry="1.9" fill="none" stroke="#6d7680" stroke-width="1"/><path d="M1.2 3.2L6.8 12.6V16.4H8.2V12.6L14.8 3.2" fill="none" stroke="#6d7680" stroke-width="1"/></svg>
<div class="t" style="left:955.40px;top:134.08px;font-size:12.9px;color:#7b8793;transform:scaleX(0.8398);transform-origin:0 0;-webkit-text-stroke:0.2px #7b8793;">SORT</div>
<div class="btn" style="left:997px;top:125px;width:53px;height:30px"></div>
<svg class="a" style="left:1001px;top:132px" width="18" height="16" viewBox="0 0 18 16"><path d="M4.7 0.8V14.6M1.2 11.1L4.7 14.7L8.2 11.1" fill="none" stroke="#8d99a6" stroke-width="1"/><text x="14" y="6.4" font-size="7" text-anchor="middle" fill="#8d99a6" font-family="Liberation Sans">Z</text><text x="14" y="14.8" font-size="7" text-anchor="middle" fill="#8d99a6" font-family="Liberation Sans">A</text></svg>
<svg class="a" style="left:1031px;top:136px" width="12" height="8" viewBox="0 0 12 8"><path d="M1 1.3L5.8 6.2L10.6 1.3" fill="none" stroke="#a4b0bc" stroke-width="1.2"/></svg>
<div class="a" style="left:579px;top:170px;width:786px;height:1px;background:#dbe3ea"></div>
<svg class="a" style="left:570px;top:180px;font-family:'Liberation Sans',sans-serif" width="540" height="445" viewBox="0 0 540 445"><rect x="84.60000000000002" y="21.60" width="444.4" height="1" fill="#ebeef1"/><rect x="84.60000000000002" y="95.00" width="444.4" height="1" fill="#ebeef1"/><rect x="84.60000000000002" y="168.40" width="444.4" height="1" fill="#ebeef1"/><rect x="84.60000000000002" y="241" width="444.4" height="2" fill="#d5dfe9"/><text x="69.29999999999995" y="26.40" font-size="12.5" text-anchor="end" fill="#94a1ad">3k</text><text x="69.29999999999995" y="99.80" font-size="12.5" text-anchor="end" fill="#94a1ad">2k</text><text x="69.29999999999995" y="173.20" font-size="12.5" text-anchor="end" fill="#94a1ad">1k</text><text x="69.29999999999995" y="246.30" font-size="12.5" text-anchor="end" fill="#94a1ad">0</text><text transform="translate(38.799999999999955,132.39999999999998) rotate(-90)" x="0" y="0" font-size="14.6" text-anchor="middle" fill="#6d7680">(D) Device #</text><text x="112.67" y="237.40" font-size="12.8" font-weight="bold" text-anchor="middle" fill="#0a0a0a">4</text><text transform="translate(116.98,254.80) rotate(-90)" x="0" y="0" font-size="13" text-anchor="end" fill="#94a1ad">workgroup</text><text x="168.22" y="236.10" font-size="12.8" font-weight="bold" text-anchor="middle" fill="#0a0a0a">9</text><text transform="translate(172.52,254.80) rotate(-90)" x="0" y="0" font-size="13" text-anchor="end" fill="#94a1ad">na.cloud.techzone.ibm.com</text><text x="223.77" y="237.40" font-size="12.8" font-weight="bold" text-anchor="middle" fill="#0a0a0a">2</text><text transform="translate(228.08,254.80) rotate(-90)" x="0" y="0" font-size="13" text-anchor="end" fill="#94a1ad">mbdom.mbgroup.ad</text><text x="279.32" y="236.10" font-size="12.8" font-weight="bold" text-anchor="middle" fill="#0a0a0a">15</text><text transform="translate(283.62,254.80) rotate(-90)" x="0" y="0" font-size="13" text-anchor="end" fill="#94a1ad">flex.local</text><text x="334.88" y="237.40" font-size="12.8" font-weight="bold" text-anchor="middle" fill="#0a0a0a">1</text><text transform="translate(339.18,254.80) rotate(-90)" x="0" y="0" font-size="13" text-anchor="end" fill="#94a1ad">acresso.com</text><rect x="377.12" y="91.80" width="26" height="149.20" fill="#14b2e2"/><text x="390.42" y="86.90" font-size="12.8" font-weight="bold" text-anchor="middle" fill="#0a0a0a">2,072</text><text transform="translate(394.73,254.80) rotate(-90)" x="0" y="0" font-size="13" text-anchor="end" fill="#94a1ad">acme.com</text><rect x="432.67" y="113.10" width="26" height="127.90" fill="#14b2e2"/><text x="445.97" y="108.10" font-size="12.8" font-weight="bold" text-anchor="middle" fill="#0a0a0a">1,778</text><text transform="translate(450.27,254.80) rotate(-90)" x="0" y="0" font-size="13" text-anchor="end" fill="#94a1ad">acme</text><rect x="488.22" y="173.70" width="26" height="67.30" fill="#14b2e2"/><text x="501.52" y="168.50" font-size="12.8" font-weight="bold" text-anchor="middle" fill="#0a0a0a">940</text><text transform="translate(505.82,254.80) rotate(-90)" x="0" y="0" font-size="13" text-anchor="end" fill="#94a1ad">(empty value)</text><text x="307.20000000000005" y="436" font-size="14.8" text-anchor="middle" fill="#6d7680">(H) Domain</text></svg>
<div class="t" style="left:1132.60px;top:184.43px;font-size:13.2px;color:#7b8793;transform:scaleX(0.8774);transform-origin:0 0;-webkit-text-stroke:0.2px #7b8793;">RECOMMENDED NEXT STEPS</div>
<svg class="a" style="left:1112.5px;top:190.5px" width="346.5" height="205.0" viewBox="0 0 346.5 205.0"><defs><filter id="sh210" x="-20%" y="-20%" width="140%" height="140%"><feDropShadow dx="0" dy="1" stdDeviation="3.2" flood-color="#1f354a" flood-opacity="0.2"/></filter></defs><path d="M20.00 20.00H326.50V185.00H20.00V117.00L5.70 103.00L20.00 89.00Z" fill="#fff" stroke="#e2e6ea" stroke-width="0.8" filter="url(#sh210)"/></svg>
<svg class="a" style="left:1112.5px;top:378px" width="346.0" height="233" viewBox="0 0 346.0 233"><defs><filter id="sh398" x="-20%" y="-20%" width="140%" height="140%"><feDropShadow dx="0" dy="1" stdDeviation="3.2" flood-color="#1f354a" flood-opacity="0.2"/></filter></defs><path d="M20.00 20.00H326.00V213.00H20.00V132.30L5.70 118.30L20.00 104.30Z" fill="#fff" stroke="#e2e6ea" stroke-width="0.8" filter="url(#sh398)"/></svg>
<div class="t" style="left:1154.90px;top:234.16px;font-size:13.4px;color:#7b8793;transform:scaleX(0.9451);transform-origin:0 0;">0%</div>
<div class="t" style="left:1224.50px;top:234.16px;font-size:13.4px;color:#7b8793;transform:scaleX(0.9664);transform-origin:0 0;">50%</div>
<div class="a" style="left:1162px;top:250.8px;width:1.5px;height:70.4px;background:#dcdfe2"></div>
<div class="a" style="left:1234.2px;top:250.8px;width:1.5px;height:70.4px;background:#dcdfe2"></div>
<div class="a" style="left:1161.8px;top:258.2px;width:80.2px;height:13.7px;background:#14b2e2"></div>
<div class="a" style="left:1161.8px;top:278.7px;width:48.2px;height:14px;background:#14b2e2"></div>
<div class="a" style="left:1161.8px;top:299.1px;width:25.9px;height:13.7px;background:#14b2e2"></div>
<div class="t" style="left:1278.60px;top:234.44px;font-size:17.2px;color:#000;transform:scaleX(1.0255);transform-origin:0 0;font-weight:bold;">See percents</div>
<div class="t" style="left:1278.60px;top:263.13px;font-size:15.2px;color:#464e56;transform:scaleX(1.0468);transform-origin:0 0;">contribution to the</div>
<div class="t" style="left:1278.68px;top:284.53px;font-size:15.2px;color:#464e56;transform:scaleX(0.9994);transform-origin:0 0;">whole</div>
<div class="btn" style="left:1278px;top:319.5px;width:72px;height:34px"></div>
<div class="t" style="left:1294.10px;top:328.18px;font-size:15.5px;color:#6d7680;transform:scaleX(1.0219);transform-origin:0 0;">Apply</div>
<div class="a" style="left:1154px;top:433.2px;width:13px;height:38.9px;background:#8fd3e8"></div>
<div class="a" style="left:1167px;top:421.2px;width:13px;height:50.9px;background:#14b2e2"></div>
<div class="a" style="left:1188.7px;top:459.1px;width:13px;height:13.0px;background:#8fd3e8"></div>
<div class="a" style="left:1201.7px;top:437.5px;width:13px;height:34.6px;background:#14b2e2"></div>
<div class="a" style="left:1223.3px;top:454.8px;width:13px;height:17.3px;background:#8fd3e8"></div>
<div class="a" style="left:1236.3px;top:449px;width:13px;height:23.1px;background:#14b2e2"></div>
<div class="t" style="left:1156.3px;width:20px;text-align:center;top:479.8px;font-size:13.5px;color:#6d7680">A</div>
<div class="t" style="left:1192.7px;width:20px;text-align:center;top:479.8px;font-size:13.5px;color:#6d7680">B</div>
<div class="t" style="left:1226.7px;width:20px;text-align:center;top:479.8px;font-size:13.5px;color:#6d7680">C</div>
<div class="t" style="left:1278.60px;top:422.43px;font-size:16.5px;color:#000;transform:scaleX(1.0779);transform-origin:0 0;font-weight:bold;">Compare</div>
<div class="a" style="left:1278.2px;top:448.5px;width:102.2px;height:21px;border:1px solid #6b6f74;border-radius:2px;background:#fff"></div>
<div class="t" style="left:1284.50px;top:450.98px;font-size:15.5px;color:#464e56;transform:scaleX(0.9505);transform-origin:0 0;">This quarter</div>
<svg class="a" style="left:1367px;top:456px" width="10" height="7" viewBox="0 0 10 7"><path d="M0.9 1.1L4.8 5.2L8.7 1.1" fill="none" stroke="#202124" stroke-width="1.7"/></svg>
<div class="t" style="left:1278.60px;top:479.80px;font-size:15.0px;color:#464e56;transform:scaleX(1.0316);transform-origin:0 0;">to the same period</div>
<div class="t" style="left:1278.60px;top:501.70px;font-size:15.0px;color:#464e56;transform:scaleX(0.9924);transform-origin:0 0;">in previous year</div>
<div class="btn" style="left:1278px;top:536px;width:71.5px;height:34px"></div>
<div class="t" style="left:1294.10px;top:544.88px;font-size:15.5px;color:#6d7680;transform:scaleX(1.0168);transform-origin:0 0;">Apply</div>
<div class="a" style="left:1365px;top:102px;width:81px;height:102.5px;background:#fff;border-right:1px solid #dfe5eb"></div>
<div class="t" style="left:1374.80px;top:126.87px;font-size:10.2px;color:#a4afba;transform:scaleX(0.9933);transform-origin:0 0;-webkit-text-stroke:0.1px #a4afba;">EXPORT TO</div>
<div class="t" style="left:1374.80px;top:148.03px;font-size:12.6px;color:#464e56;transform:scaleX(0.9070);transform-origin:0 0;">XLSX</div>
<div class="t" style="left:1374.80px;top:176.03px;font-size:12.6px;color:#464e56;transform:scaleX(0.9076);transform-origin:0 0;">CSV</div>
<div class="a" style="left:1443.2px;top:101.6px;width:3px;height:1.8px;border-radius:1px;background:#14b2e2"></div>
<svg class="a" style="left:13.8px;top:383px" width="53.40" height="24.70" viewBox="0 0 53.40 24.70"><polygon points="0,0 41.05000000000001,0 53.400000000000006,12.349999999999994 41.05000000000001,24.69999999999999 0,24.69999999999999" fill="#cc0000"/></svg>
<div class="lt" style="left:16.50px;width:40px;top:386.28px;font-size:15.5px">1</div>
<svg class="a" style="left:13.8px;top:512px" width="53.40" height="24.80" viewBox="0 0 53.40 24.80"><polygon points="0,0 41.00000000000003,0 53.400000000000006,12.399999999999977 41.00000000000003,24.799999999999955 0,24.799999999999955" fill="#cc0000"/></svg>
<div class="lt" style="left:16.90px;width:40px;top:516.98px;font-size:15.5px">2</div>
<svg class="a" style="left:13.8px;top:442px" width="53.40" height="24.90" viewBox="0 0 53.40 24.90"><polygon points="0,0 40.95000000000002,0 53.400000000000006,12.449999999999989 40.95000000000002,24.899999999999977 0,24.899999999999977" fill="#cc0000"/></svg>
<div class="lt" style="left:16.80px;width:40px;top:448.93px;font-size:15.5px">3</div>
<svg class="a" style="left:268px;top:175.9px" width="50.80" height="26.00" viewBox="0 0 50.80 26.00"><polygon points="0,0 37.80000000000001,0 50.80000000000001,13.0 37.80000000000001,26.0 0,26.0" fill="#cc0000"/></svg>
<div class="lt" style="left:265.60px;width:40px;top:181.93px;font-size:15.5px">4</div>
<svg class="a" style="left:10.0px;top:203px" width="51.00" height="24.80" viewBox="0 0 51.00 24.80"><polygon points="0,0 38.599999999999994,0 51.0,12.400000000000006 38.599999999999994,24.80000000000001 0,24.80000000000001" fill="#cc0000"/></svg>
<div class="lt" style="left:8.20px;width:40px;top:206.33px;font-size:15.5px">5</div>
<svg class="a" style="left:268px;top:266.0px" width="51.20" height="24.90" viewBox="0 0 51.20 24.90"><polygon points="0,0 38.75,0 51.19999999999999,12.449999999999989 38.75,24.899999999999977 0,24.899999999999977" fill="#cc0000"/></svg>
<div class="lt" style="left:265.80px;width:40px;top:269.38px;font-size:15.5px">6</div>
<svg class="a" style="left:553.8px;top:338px" width="51.10" height="24.90" viewBox="0 0 51.10 24.90"><polygon points="12.449999999999989,0 51.10000000000002,0 51.10000000000002,24.899999999999977 12.449999999999989,24.899999999999977 0,12.449999999999989" fill="#cc0000"/></svg>
<div class="lt" style="left:564.60px;width:40px;top:342.98px;font-size:15.5px">7</div>
<svg class="a" style="left:894.9px;top:157.1px" width="26.10" height="50.90" viewBox="0 0 26.10 50.90"><polygon points="13.050000000000011,0 26.100000000000023,13.050000000000011 26.100000000000023,50.900000000000006 0,50.900000000000006 0,13.050000000000011" fill="#cc0000"/></svg>
<div class="lt" style="left:887.60px;width:40px;top:174.23px;font-size:15.5px">8</div>
<svg class="a" style="left:1007px;top:157.1px" width="25.00" height="50.90" viewBox="0 0 25.00 50.90"><polygon points="12.5,0 25,12.5 25,50.900000000000006 0,50.900000000000006 0,12.5" fill="#cc0000"/></svg>
<div class="lt" style="left:998.40px;width:40px;top:174.23px;font-size:15.5px">9</div>
<svg class="a" style="left:1164.9px;top:374.3px" width="50.80" height="24.50" viewBox="0 0 50.80 24.50"><polygon points="12.25,0 50.799999999999955,0 50.799999999999955,24.5 12.25,24.5 0,12.25" fill="#cc0000"/></svg>
<div class="lt" style="left:1174.40px;width:40px;top:377.48px;font-size:15.5px">10</div>
<svg class="a" style="left:556.8px;top:588px" width="51.20" height="24.90" viewBox="0 0 51.20 24.90"><polygon points="12.449999999999989,0 51.200000000000045,0 51.200000000000045,24.899999999999977 12.449999999999989,24.899999999999977 0,12.449999999999989" fill="#cc0000"/></svg>
<div class="lt" style="left:565.50px;width:40px;top:591.38px;font-size:15.5px">11</div>
<svg class="a" style="left:833.9px;top:68.7px" width="51.40" height="25.10" viewBox="0 0 51.40 25.10"><polygon points="0,0 38.84999999999998,0 51.39999999999998,12.549999999999997 38.84999999999998,25.099999999999994 0,25.099999999999994" fill="#cc0000"/></svg>
<div class="lt" style="left:835.20px;width:40px;top:73.43px;font-size:15.5px">12</div>
<svg class="a" style="left:1082px;top:19.8px" width="29.90" height="47.80" viewBox="0 0 29.90 47.80"><polygon points="0,0 29.90000000000009,0 29.90000000000009,32.84999999999995 14.950000000000045,47.8 0,32.84999999999995" fill="#cc0000"/></svg>
<div class="lt" style="left:1076.90px;width:40px;top:30.93px;font-size:15.5px">13</div>
<svg class="a" style="left:1236px;top:75px" width="51.00" height="24.90" viewBox="0 0 51.00 24.90"><polygon points="0,0 38.55,0 51,12.450000000000003 38.55,24.900000000000006 0,24.900000000000006" fill="#cc0000"/></svg>
<div class="lt" style="left:1237.40px;width:40px;top:79.83px;font-size:15.5px">14</div>
<svg class="a" style="left:1446.9px;top:145px" width="50.20" height="31.00" viewBox="0 0 50.20 31.00"><polygon points="15.5,0 50.19999999999982,0 50.19999999999982,31 15.5,31 0,15.5" fill="#cc0000"/></svg>
<div class="lt" style="left:1454.60px;width:40px;top:151.43px;font-size:15.5px">15</div>
</body></html>
